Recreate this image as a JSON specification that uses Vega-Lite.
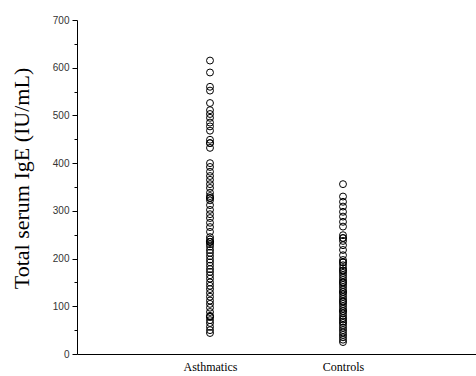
{
  "$schema": "https://vega.github.io/schema/vega-lite/v6.json",
  "width": 399,
  "height": 334,
  "autosize": {"type": "none"},
  "padding": {"left": 77, "top": 20, "right": 0, "bottom": 22},
  "background": "white",
  "config": {"view": {"stroke": null}},
  "datasets": {
    "igE": [
      {"group": "Asthmatics", "ige": 615}, {"group": "Asthmatics", "ige": 590}, {"group": "Asthmatics", "ige": 560},
      {"group": "Asthmatics", "ige": 552}, {"group": "Asthmatics", "ige": 526}, {"group": "Asthmatics", "ige": 511},
      {"group": "Asthmatics", "ige": 503}, {"group": "Asthmatics", "ige": 495}, {"group": "Asthmatics", "ige": 485},
      {"group": "Asthmatics", "ige": 477}, {"group": "Asthmatics", "ige": 468}, {"group": "Asthmatics", "ige": 449},
      {"group": "Asthmatics", "ige": 442}, {"group": "Asthmatics", "ige": 442}, {"group": "Asthmatics", "ige": 432},
      {"group": "Asthmatics", "ige": 400}, {"group": "Asthmatics", "ige": 392}, {"group": "Asthmatics", "ige": 382},
      {"group": "Asthmatics", "ige": 373}, {"group": "Asthmatics", "ige": 365}, {"group": "Asthmatics", "ige": 356},
      {"group": "Asthmatics", "ige": 348}, {"group": "Asthmatics", "ige": 338}, {"group": "Asthmatics", "ige": 331},
      {"group": "Asthmatics", "ige": 327}, {"group": "Asthmatics", "ige": 327}, {"group": "Asthmatics", "ige": 322},
      {"group": "Asthmatics", "ige": 312}, {"group": "Asthmatics", "ige": 302}, {"group": "Asthmatics", "ige": 293},
      {"group": "Asthmatics", "ige": 285}, {"group": "Asthmatics", "ige": 275}, {"group": "Asthmatics", "ige": 266},
      {"group": "Asthmatics", "ige": 256}, {"group": "Asthmatics", "ige": 245}, {"group": "Asthmatics", "ige": 240},
      {"group": "Asthmatics", "ige": 235}, {"group": "Asthmatics", "ige": 235}, {"group": "Asthmatics", "ige": 235},
      {"group": "Asthmatics", "ige": 230}, {"group": "Asthmatics", "ige": 225}, {"group": "Asthmatics", "ige": 218},
      {"group": "Asthmatics", "ige": 212}, {"group": "Asthmatics", "ige": 205}, {"group": "Asthmatics", "ige": 198},
      {"group": "Asthmatics", "ige": 192}, {"group": "Asthmatics", "ige": 185}, {"group": "Asthmatics", "ige": 178},
      {"group": "Asthmatics", "ige": 172}, {"group": "Asthmatics", "ige": 165}, {"group": "Asthmatics", "ige": 158},
      {"group": "Asthmatics", "ige": 150}, {"group": "Asthmatics", "ige": 143}, {"group": "Asthmatics", "ige": 136},
      {"group": "Asthmatics", "ige": 128}, {"group": "Asthmatics", "ige": 120}, {"group": "Asthmatics", "ige": 112},
      {"group": "Asthmatics", "ige": 105}, {"group": "Asthmatics", "ige": 97}, {"group": "Asthmatics", "ige": 88},
      {"group": "Asthmatics", "ige": 80}, {"group": "Asthmatics", "ige": 78}, {"group": "Asthmatics", "ige": 78},
      {"group": "Asthmatics", "ige": 71}, {"group": "Asthmatics", "ige": 65}, {"group": "Asthmatics", "ige": 57},
      {"group": "Asthmatics", "ige": 50}, {"group": "Asthmatics", "ige": 44},
      {"group": "Controls", "ige": 356}, {"group": "Controls", "ige": 330}, {"group": "Controls", "ige": 319},
      {"group": "Controls", "ige": 309}, {"group": "Controls", "ige": 298}, {"group": "Controls", "ige": 288},
      {"group": "Controls", "ige": 277}, {"group": "Controls", "ige": 267}, {"group": "Controls", "ige": 249},
      {"group": "Controls", "ige": 243}, {"group": "Controls", "ige": 243}, {"group": "Controls", "ige": 237},
      {"group": "Controls", "ige": 228}, {"group": "Controls", "ige": 218}, {"group": "Controls", "ige": 207},
      {"group": "Controls", "ige": 197}, {"group": "Controls", "ige": 192}, {"group": "Controls", "ige": 192},
      {"group": "Controls", "ige": 186}, {"group": "Controls", "ige": 180}, {"group": "Controls", "ige": 175},
      {"group": "Controls", "ige": 175}, {"group": "Controls", "ige": 170}, {"group": "Controls", "ige": 165},
      {"group": "Controls", "ige": 160}, {"group": "Controls", "ige": 155}, {"group": "Controls", "ige": 150},
      {"group": "Controls", "ige": 150}, {"group": "Controls", "ige": 145}, {"group": "Controls", "ige": 140},
      {"group": "Controls", "ige": 135}, {"group": "Controls", "ige": 130}, {"group": "Controls", "ige": 130},
      {"group": "Controls", "ige": 125}, {"group": "Controls", "ige": 120}, {"group": "Controls", "ige": 115},
      {"group": "Controls", "ige": 110}, {"group": "Controls", "ige": 110}, {"group": "Controls", "ige": 105},
      {"group": "Controls", "ige": 100}, {"group": "Controls", "ige": 95}, {"group": "Controls", "ige": 90},
      {"group": "Controls", "ige": 90}, {"group": "Controls", "ige": 85}, {"group": "Controls", "ige": 80},
      {"group": "Controls", "ige": 75}, {"group": "Controls", "ige": 72}, {"group": "Controls", "ige": 68},
      {"group": "Controls", "ige": 65}, {"group": "Controls", "ige": 60}, {"group": "Controls", "ige": 55},
      {"group": "Controls", "ige": 50}, {"group": "Controls", "ige": 45}, {"group": "Controls", "ige": 40},
      {"group": "Controls", "ige": 35}, {"group": "Controls", "ige": 30}, {"group": "Controls", "ige": 25}
    ]
  },
  "data": {"name": "igE"},
  "mark": {"type": "point", "shape": "circle", "filled": false, "stroke": "black", "strokeWidth": 1, "size": 48, "opacity": 1},
  "encoding": {
    "x": {
      "field": "group", "type": "nominal",
      "scale": {"type": "point", "padding": 1},
      "sort": ["Asthmatics", "Controls"],
      "axis": {
        "title": null, "labelAngle": 0, "ticks": false, "domainColor": "black", "domainWidth": 1,
        "labelFont": "Liberation Serif", "labelFontSize": 12, "labelColor": "black", "labelPadding": 7
      }
    },
    "y": {
      "field": "ige", "type": "quantitative",
      "scale": {"domain": [0, 700], "nice": false, "zero": true},
      "axis": {
        "title": "Total serum IgE (IU/mL)",
        "titleFont": "Liberation Serif", "titleFontSize": 22, "titleFontWeight": "normal", "titleColor": "black",
        "titlePadding": 19, "titleY": 158,
        "values": [0, 50, 100, 150, 200, 250, 300, 350, 400, 450, 500, 550, 600, 650, 700],
        "labelExpr": "datum.value % 100 === 0 ? datum.label : ''",
        "tickSize": {"condition": {"test": "datum.value % 100 === 0", "value": 5}, "value": 3},
        "grid": false, "domainColor": "black", "tickColor": "black",
        "labelFont": "Liberation Sans", "labelFontSize": 10, "labelColor": "#333", "labelPadding": 3
      }
    }
  }
}
